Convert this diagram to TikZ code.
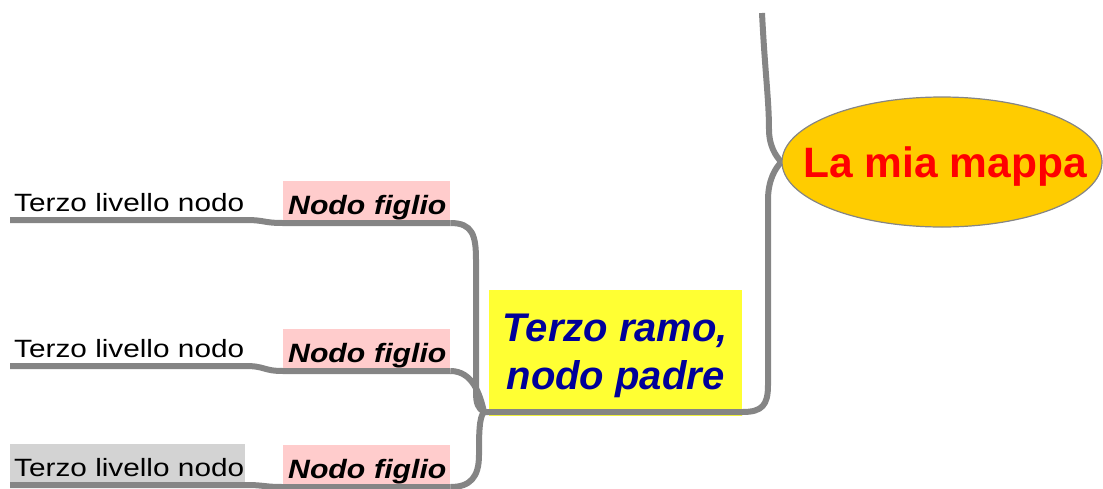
\documentclass[tikz,border=0pt]{standalone}
\usepackage{fontspec}
\setmainfont{Liberation Sans}
\newfontfamily\gcfont[FakeStretch=1.19]{Liberation Sans}
\newfontfamily\chfont[FakeStretch=1.14]{Liberation Sans}
\usetikzlibrary{shapes.geometric,calc}
\definecolor{linegray}{HTML}{858585}
\definecolor{pinkbg}{HTML}{FFCCCC}
\definecolor{graybg}{HTML}{D3D3D3}
\definecolor{rootfill}{HTML}{FFCC00}
\definecolor{padrefill}{HTML}{FFFF33}
\definecolor{navyblue}{HTML}{000099}
\pgfdeclarelayer{toplayer}
\pgfsetlayers{main,toplayer}
\hfuzz=50pt
\begin{document}
\begin{tikzpicture}[x=1pt,y=-1pt,
  conn/.style={draw=linegray,line width=6pt},
  gcnode/.style={anchor=south west, inner xsep=4pt, inner ysep=8pt, text width=227pt, align=left,
    text height=25pt, text depth=0pt, font=\gcfont\fontsize{25}{30}\selectfont},
  chnode/.style={anchor=south west, fill=pinkbg, inner xsep=5pt, inner ysep=8pt, text width=157pt, align=left,
    text height=26pt, text depth=0pt, font=\chfont\bfseries\itshape\fontsize{26.5}{30}\selectfont},
  rootnode/.style={ellipse, draw=linegray, line width=1.2pt, fill=rootfill, minimum width=320pt,
    minimum height=130pt, inner sep=0pt},
  roottext/.style={anchor=base, inner sep=0pt, text=red, font=\bfseries\fontsize{42.5}{50}\selectfont},
  padrebox/.style={fill=padrefill, minimum width=253pt, minimum height=126pt, inner sep=0pt, anchor=north west},
  padretext/.style={font=\bfseries\itshape\fontsize{40}{48}\selectfont, text=navyblue, align=center, inner sep=0pt}]
\useasboundingbox (0,0) rectangle (1103,488);

\begin{pgfonlayer}{toplayer}
\node[rootnode] (root) at (942,162) {};
\node[roottext] (roottxt) at (945,177) {La mia mappa};
\end{pgfonlayer}

\node[padrebox] (padre) at (489,290) {};
\node[padretext] (padretxt) at (615.5,356) {Terzo ramo,\\nodo padre};

\node[chnode] (c1) at (283,223) {\mbox{Nodo figlio}};
\node[chnode] (c2) at (283,371) {\mbox{Nodo figlio}};
\node[chnode] (c3) at (283,487) {\mbox{Nodo figlio}};

\node[gcnode] (g1) at (10,220) {\mbox{Terzo livello nodo}};
\node[gcnode] (g2) at (10,366) {\mbox{Terzo livello nodo}};
\node[gcnode, fill=graybg] (g3) at (10,485) {\mbox{Terzo livello nodo}};

\coordinate (j) at (484,412);
\coordinate (top) at (762,13);

% grandchild -> child
\draw[conn] (g1.south west) -- (g1.south east) .. controls +(20,0) and +(-20,0) .. (c1.south west) -- (c1.south east);
\draw[conn] (g2.south west) -- (g2.south east) .. controls +(20,0) and +(-20,0) .. (c2.south west) -- (c2.south east);
\draw[conn] (g3.south west) -- (g3.south east) .. controls +(20,0) and +(-20,0) .. (c3.south west) -- (c3.south east);

% child -> parent
\draw[conn] (c1.south east) .. controls +(22,0) and +(0,-25) .. (476,260) -- (476,392) .. controls +(0,12) and +(-6,-4) .. (j);
\draw[conn] (c2.south east) .. controls +(22,0) and +(-4,-18) .. (j);
\draw[conn] (j) .. controls +(-5,5) and +(0,-20) .. (479,455) .. controls +(0,22) and +(20,0) .. (c3.south east);

% parent -> root
\draw[conn] (j) -- (padre.south east |- j) .. controls +(20,0) and +(0,20) .. (768,385) -- (768,200) .. controls +(0,-20) and +(-6,6) .. (root.west);
\draw[conn] (top) .. controls +(3,60) and +(0,-30) .. (769,130) .. controls +(0,15) and +(-6,-6) .. (root.west);
\end{tikzpicture}
\end{document}
